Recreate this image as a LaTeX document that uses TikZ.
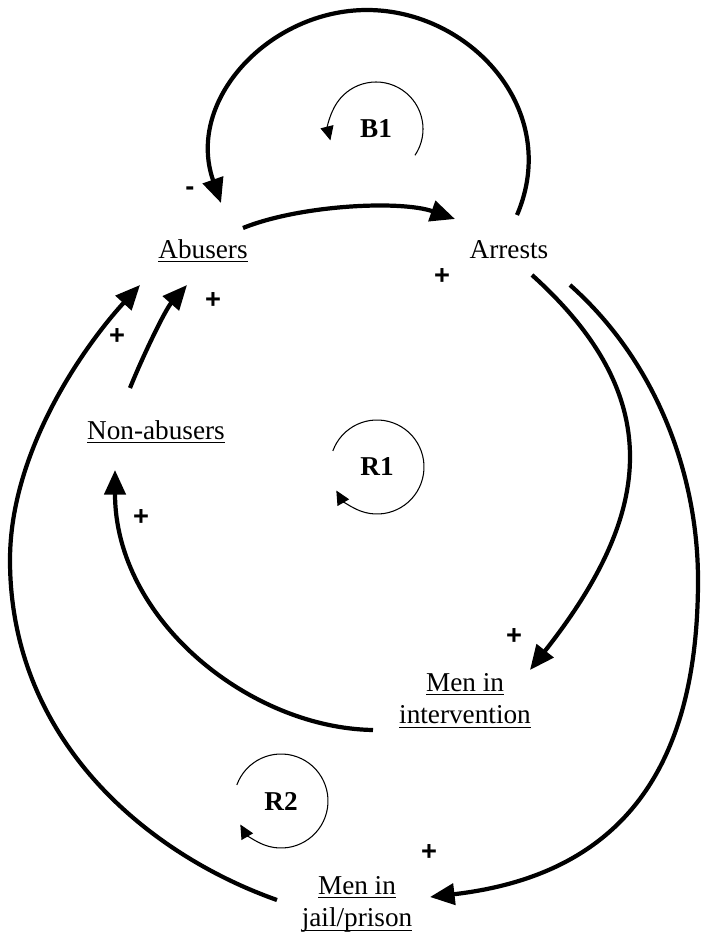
\documentclass[tikz,border=0pt]{standalone}
\usepackage{amsmath}
\usepackage{fontspec}
\setmainfont{Liberation Serif}
\newfontfamily\signfont{Liberation Sans}
\usepackage{tikz}
\usetikzlibrary{positioning, arrows.meta}

\newcommand{\stock}[1]{\underline{\smash[b]{#1}}}

\tikzset{
	stockvar/.style={inner sep=0pt, font=\fontsize{15.5}{18.5}\selectfont},
	signmark/.style={inner sep=0pt, font=\signfont\bfseries\fontsize{15.5}{18.5}\selectfont},
	loopname/.style={inner sep=0pt, font=\bfseries\fontsize{15.5}{18.5}\selectfont},
	causal/.style={line width=2.4pt, -{Triangle[length=14pt,width=12pt]}},
	loopsym/.style={line width=0.6pt, -{Triangle[length=8pt,width=7.5pt]}}
}

\begin{document}
\begin{tikzpicture}[x=0.02cm, y=-0.02cm]
	\useasboundingbox (0,0) rectangle (701,936);

	% Variables
	\node[stockvar, anchor=base] (abusers) at (203,258) {\stock{Abusers}};
	\node[stockvar, anchor=base] (arrests) at (509,258) {Arrests};
	\node[stockvar, anchor=base] (nonabusers) at (156,439) {\stock{Non-abusers}};
	\node[stockvar, align=center] (intervention) at (465,701) {\stock{Men in}\\\stock{intervention}};
	\node[stockvar, align=center] (jail) at (357,904) {\stock{Men in}\\\stock{jail/prison}};

	% Loops
	\node[loopname] (b1) at (376,129) {B1};
	\node[loopname] (r1) at (377,467) {R1};
	\node[loopname] (r2) at (281,801) {R2};
	\draw[loopsym] ([shift={(34:47)}]b1.center) arc[start angle=34, end angle=-194, radius=47];
	\draw[loopsym] ([shift={(-160:47)}]r1.center) arc[start angle=-160, end angle=150, radius=47];
	\draw[loopsym] ([shift={(-160:47)}]r2.center) arc[start angle=-160, end angle=150, radius=47];

	% Links
	\draw[causal] ([shift={(40,-30)}]abusers.base) .. controls +(57,-23) and +(-55,-19) .. ([shift={(-54,-39)}]arrests.base);
	\draw[causal] ([shift={(8,-43)}]arrests.base) .. controls +(45,-105) and +(103,0) .. (367,10)
		.. controls +(-97,0) and +(-36,-103) .. ([shift={(18,-55)}]abusers.base);
	\draw[causal] ([shift={(-26,-51)}]nonabusers.base) .. controls +(12,-30) and +(-22,25) .. ([shift={(-16,27)}]abusers.base);
	\draw[causal] ([shift={(23,17)}]arrests.base) .. controls +(141,127) and +(118,-150) .. ([shift={(65,-31)}]intervention.center);
	\draw[causal] ([shift={(61,27)}]arrests.base) .. controls +(90,80) and +(0,-100) .. (698,580)
		.. controls +(0,190) and +(190,-22) .. ([shift={(73,-7)}]jail.center);
	\draw[causal] ([shift={(-92,29)}]intervention.center) .. controls +(-123,-2) and +(0,150) .. ([shift={(-41,31)}]nonabusers.base);
	\draw[causal] ([shift={(-80,-4)}]jail.center) .. controls +(-130,-46) and +(0,180) .. (10,560)
		.. controls +(0,-110) and +(-55,60) .. ([shift={(-63,27)}]abusers.base);

	% Polarities
	\node[signmark] (m1) at (190,191) {-};
	\node[signmark] (p1) at (442,277) {+};
	\node[signmark] (p2) at (213,301) {+};
	\node[signmark] (p3) at (117,337) {+};
	\node[signmark] (p4) at (141,518) {+};
	\node[signmark] (p5) at (514,637) {+};
	\node[signmark] (p6) at (429,853) {+};
\end{tikzpicture}
\end{document}
